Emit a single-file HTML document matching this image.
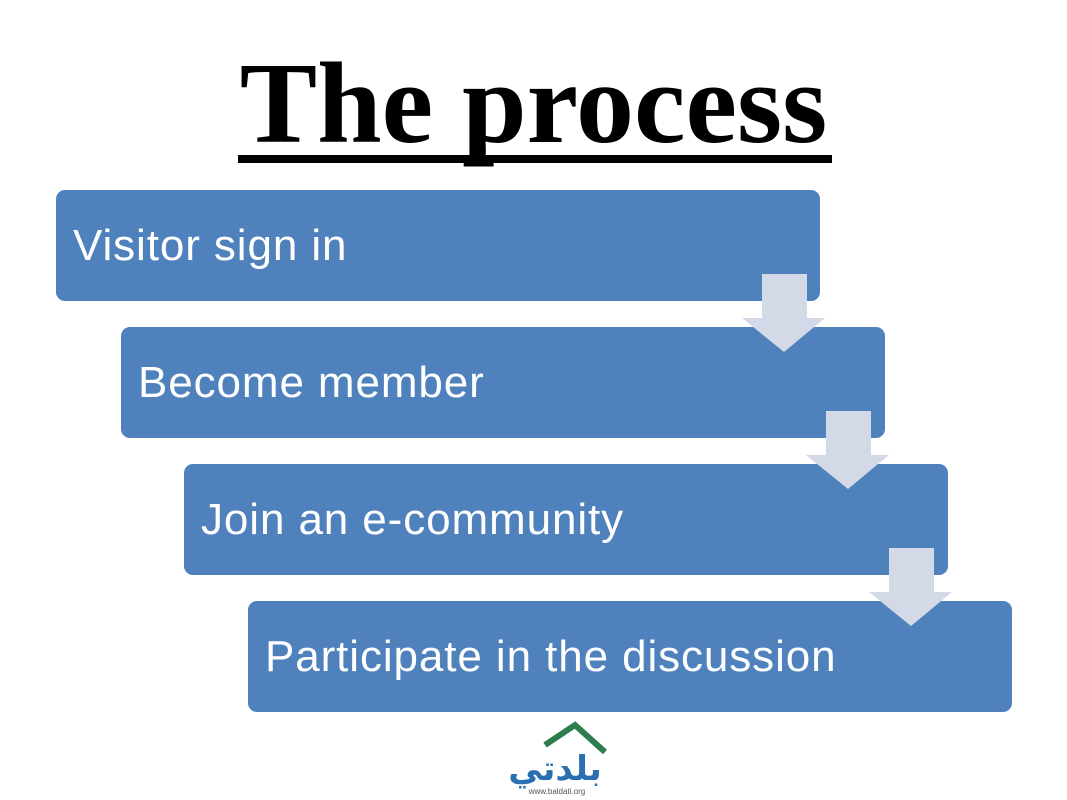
<!DOCTYPE html>
<html><head><style>
body{margin:0;width:1067px;height:800px;background:#fff;position:relative;overflow:hidden;font-family:"Liberation Sans",sans-serif}
.t{position:absolute;left:0;top:46px;width:1067px;text-align:center;font-family:"Liberation Serif",serif;font-weight:bold;font-size:116px;line-height:116px;color:#000}
.ul{position:absolute;left:238px;top:155px;width:594px;height:8px;background:#000}
.b{position:absolute;width:764px;height:111px;background:#4f81bd;border-radius:9px;color:#fff;font-size:44px;line-height:111px;box-sizing:border-box;padding-left:17px;letter-spacing:0.9px}
</style></head><body>
<div class="t">The process</div>
<div class="ul"></div>
<div class="b" style="left:56px;top:190px">Visitor sign in</div>
<div class="b" style="left:121px;top:327px">Become member</div>
<div class="b" style="left:184px;top:464px">Join an e-community</div>
<div class="b" style="left:248px;top:601px">Participate in the discussion</div>
<svg width="1067" height="800" style="position:absolute;left:0;top:0">
<g fill="#d3d9e6">
<polygon points="762,274 807,274 807,318 825,318 784,352 742,318 762,318"/>
<polygon transform="translate(64,137)" points="762,274 807,274 807,318 825,318 784,352 742,318 762,318"/>
<polygon transform="translate(127,274)" points="762,274 807,274 807,318 825,318 784,352 742,318 762,318"/>
</g>
<path d="M545,745 L575,725 L605,752" stroke="#2e7d4f" stroke-width="6" fill="none"/>
<text x="555" y="780" text-anchor="middle" font-family="'Liberation Sans','DejaVu Sans',sans-serif" font-size="34" fill="#2a6fb0" font-weight="bold">بلدتي</text>
<text x="557" y="794" text-anchor="middle" font-family="'Liberation Sans',sans-serif" font-size="8" fill="#555">www.baldati.org</text>
</svg>
</body></html>
